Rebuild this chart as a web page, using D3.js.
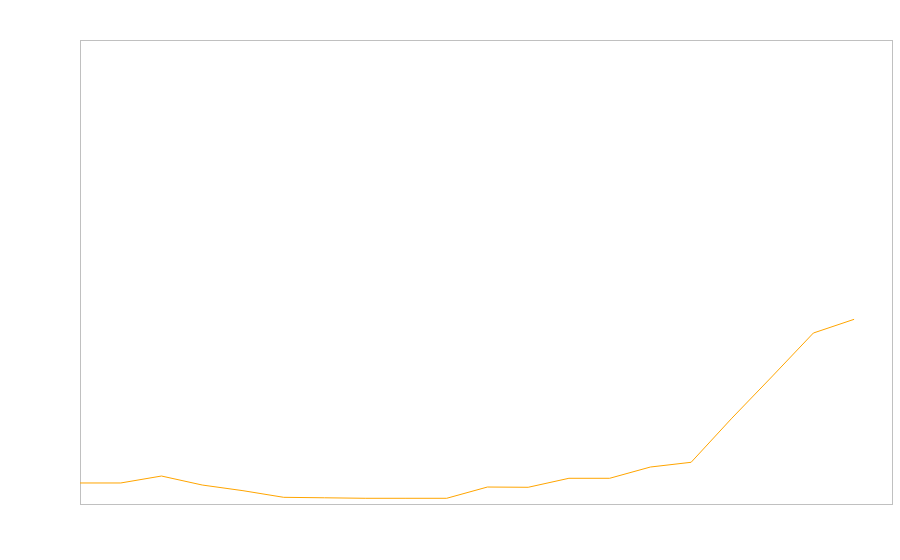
<!DOCTYPE html>
<html>
<head>
<meta charset="utf-8">
<script src="https://cdn.jsdelivr.net/npm/d3@7"></script>
<style>
	body { margin: 0; background: #fff; }
</style>
</head>
<body>
<div id="chart"></div>
<script>
//-------------------------------------
// data
//-------------------------------------
var steps = d3.range(20);
var values = [4.53, 4.53, 6.03, 4.09, 2.87, 1.44, 1.34, 1.23, 1.23, 1.23,
	3.66, 3.6, 5.54, 5.54, 7.97, 8.99, 18.5, 27.6, 36.85, 39.8];
var x_domain = [0, 19.93];
var y_domain = [0, 100];

//-------------------------------------
// field
//-------------------------------------
var width = 900;
var height = 560;
var margin = { top: 40, right: 8, bottom: 56, left: 80 };
var plot_w = width - margin.left - margin.right;
var plot_h = height - margin.top - margin.bottom;

var svg = d3.select("#chart")
	.append("svg")
	.attr("width", width)
	.attr("height", height);

var g = svg.append("g")
	.attr("transform", "translate(" + margin.left + "," + margin.top + ")");

var x = d3.scaleLinear().domain(x_domain).range([0, plot_w]);
var y = d3.scaleLinear().domain(y_domain).range([plot_h, 0]);

// frame
g.append("rect")
	.attr("x", 0.5)
	.attr("y", 0.5)
	.attr("width", plot_w)
	.attr("height", plot_h)
	.style("fill", "none")
	.style("stroke", "#c0c0c0")
	.style("stroke-width", 1);

// line
var line = d3.line()
	.x(function(d, i) { return x(steps[i]); })
	.y(function(d) { return y(d); });

g.append("path")
	.datum(values)
	.attr("d", line)
	.style("fill", "none")
	.style("stroke", "#ffa500")
	.style("stroke-width", 1);
</script>
</body>
</html>
